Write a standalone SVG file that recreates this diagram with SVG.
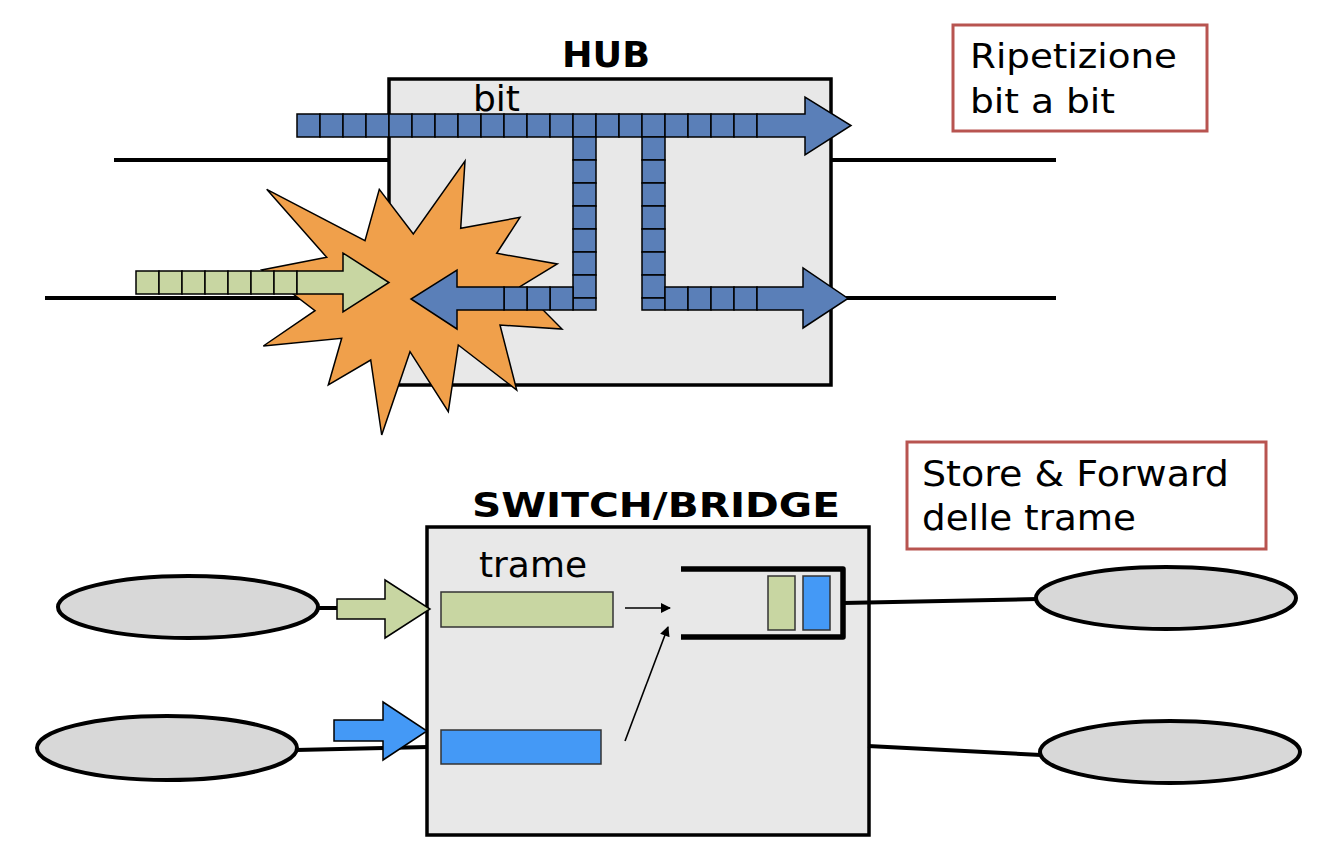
<svg xmlns="http://www.w3.org/2000/svg" width="1330" height="842" viewBox="0 0 1330 842">
<style>
.box{fill:#e8e8e8;stroke:#000;stroke-width:3.5}
.wire{stroke:#000;stroke-width:4;fill:none}
.bsq{fill:#5a7fb8;stroke:#000;stroke-width:1.5}
.gsq{fill:#c8d6a2;stroke:#000;stroke-width:1.5}
.note{fill:#fff;stroke:#b85450;stroke-width:3}
.t{font-family:"DejaVu Sans",Verdana,sans-serif;fill:#000}
.title{font-family:"DejaVu Sans",Verdana,sans-serif;font-weight:bold;fill:#000}
.ell{fill:#d8d8d8;stroke:#000;stroke-width:4}
.thin{stroke:#000;stroke-width:1.6;fill:none}
</style>
<defs>
<marker id="ah" viewBox="0 0 10 10" refX="9" refY="5" markerWidth="11" markerHeight="10" orient="auto" markerUnits="userSpaceOnUse">
<path d="M0,0 L10,5 L0,10 z" fill="#000"/>
</marker>
</defs>

<!-- HUB -->
<g id="hub">
<line class="wire" x1="114" y1="160" x2="390" y2="160"/>
<line class="wire" x1="830" y1="160" x2="1056" y2="160"/>
<line class="wire" x1="45" y1="298" x2="390" y2="298"/>
<line class="wire" x1="830" y1="298" x2="1056" y2="298"/>
<rect class="box" x="389" y="79" width="442" height="306"/>
<text class="title" x="562" y="67" font-size="35" textLength="88" lengthAdjust="spacingAndGlyphs">HUB</text>
<text class="t" x="473" y="111" font-size="35" textLength="47" lengthAdjust="spacingAndGlyphs">bit</text>
</g>

<g id="explosion">
<polygon fill="#f0a04b" stroke="#000" stroke-width="1.5" points="266.7,189.3 365,240.7 379.3,189.3 413.3,234 465,161 460.7,228.3 520,217.3 496.7,253.3 557.3,264 520,286.7 562,329 500,325 516.7,390 458.3,345 448.3,411.7 410,351.7 381.7,435 370.7,360 328.3,385 341.7,338.3 263.3,346 315,310.7 261.7,270 326.7,257.3"/>
</g>

<g id="bit-chain-top">
<rect class="bsq" x="297" y="114" width="23" height="23"/>
<rect class="bsq" x="320" y="114" width="23" height="23"/>
<rect class="bsq" x="343" y="114" width="23" height="23"/>
<rect class="bsq" x="366" y="114" width="23" height="23"/>
<rect class="bsq" x="389" y="114" width="23" height="23"/>
<rect class="bsq" x="412" y="114" width="23" height="23"/>
<rect class="bsq" x="435" y="114" width="23" height="23"/>
<rect class="bsq" x="458" y="114" width="23" height="23"/>
<rect class="bsq" x="481" y="114" width="23" height="23"/>
<rect class="bsq" x="504" y="114" width="23" height="23"/>
<rect class="bsq" x="527" y="114" width="23" height="23"/>
<rect class="bsq" x="550" y="114" width="23" height="23"/>
<rect class="bsq" x="573" y="114" width="23" height="23"/>
<rect class="bsq" x="596" y="114" width="23" height="23"/>
<rect class="bsq" x="619" y="114" width="23" height="23"/>
<rect class="bsq" x="642" y="114" width="23" height="23"/>
<rect class="bsq" x="665" y="114" width="23" height="23"/>
<rect class="bsq" x="688" y="114" width="23" height="23"/>
<rect class="bsq" x="711" y="114" width="23" height="23"/>
<rect class="bsq" x="734" y="114" width="23" height="23"/>
<polygon class="bsq" points="757,114 805,114 805,97 851,125.5 805,155 805,137 757,137"/>
</g>

<g id="bit-chain-left">
<rect class="bsq" x="573" y="137" width="23" height="23"/>
<rect class="bsq" x="573" y="160" width="23" height="23"/>
<rect class="bsq" x="573" y="183" width="23" height="23"/>
<rect class="bsq" x="573" y="206" width="23" height="23"/>
<rect class="bsq" x="573" y="229" width="23" height="23"/>
<rect class="bsq" x="573" y="252" width="23" height="23"/>
<rect class="bsq" x="573" y="275" width="23" height="23"/>
<rect class="bsq" x="573" y="298" width="23" height="12"/>
<rect class="bsq" x="550" y="287" width="23" height="23"/>
<rect class="bsq" x="527" y="287" width="23" height="23"/>
<rect class="bsq" x="504" y="287" width="23" height="23"/>
<polygon class="bsq" points="504,287 457,287 457,270 411,299 457,329 457,310 504,310"/>
</g>

<g id="bit-chain-right">
<rect class="bsq" x="642" y="137" width="23" height="23"/>
<rect class="bsq" x="642" y="160" width="23" height="23"/>
<rect class="bsq" x="642" y="183" width="23" height="23"/>
<rect class="bsq" x="642" y="206" width="23" height="23"/>
<rect class="bsq" x="642" y="229" width="23" height="23"/>
<rect class="bsq" x="642" y="252" width="23" height="23"/>
<rect class="bsq" x="642" y="275" width="23" height="23"/>
<rect class="bsq" x="642" y="298" width="23" height="12"/>
<rect class="bsq" x="665" y="287" width="23" height="23"/>
<rect class="bsq" x="688" y="287" width="23" height="23"/>
<rect class="bsq" x="711" y="287" width="23" height="23"/>
<rect class="bsq" x="734" y="287" width="23" height="23"/>
<polygon class="bsq" points="757,287 803,287 803,268 848,298.5 803,328 803,310 757,310"/>
</g>

<g id="bit-chain-green">
<rect class="gsq" x="136" y="271" width="23" height="23"/>
<rect class="gsq" x="159" y="271" width="23" height="23"/>
<rect class="gsq" x="182" y="271" width="23" height="23"/>
<rect class="gsq" x="205" y="271" width="23" height="23"/>
<rect class="gsq" x="228" y="271" width="23" height="23"/>
<rect class="gsq" x="251" y="271" width="23" height="23"/>
<rect class="gsq" x="274" y="271" width="23" height="23"/>
<polygon class="gsq" points="297,271 343,271 343,253 389,282.5 343,312 343,294 297,294"/>
</g>

<g id="note-hub">
<rect class="note" x="953" y="25" width="254" height="106"/>
<text class="t" x="970" y="68" font-size="34" textLength="207" lengthAdjust="spacingAndGlyphs">Ripetizione</text>
<text class="t" x="970" y="113" font-size="34" textLength="145" lengthAdjust="spacingAndGlyphs">bit a bit</text>
</g>

<!-- SWITCH -->
<g id="switch">
<rect class="box" x="427" y="527" width="442" height="308"/>
<text class="title" x="472" y="517" font-size="33" textLength="368" lengthAdjust="spacingAndGlyphs">SWITCH/BRIDGE</text>
<text class="t" x="479" y="577" font-size="35" textLength="108" lengthAdjust="spacingAndGlyphs">trame</text>
<rect x="441" y="592" width="172" height="35" fill="#c8d6a2" stroke="#333" stroke-width="1.5"/>
<rect x="441" y="730" width="160" height="34" fill="#4499f6" stroke="#333" stroke-width="1.5"/>
</g>

<g id="connectors">
<line class="wire" x1="316" y1="608" x2="340" y2="608"/>
<line class="wire" x1="296" y1="750" x2="428" y2="747"/>
<line class="wire" x1="868" y1="746" x2="1041" y2="755"/>
<line class="wire" x1="843" y1="603" x2="1037" y2="599"/>
<line class="thin" x1="625" y1="608" x2="670" y2="608" marker-end="url(#ah)"/>
<line class="thin" x1="625" y1="741" x2="668" y2="627" marker-end="url(#ah)"/>
</g>

<g id="queue">
<polyline fill="none" stroke="#000" stroke-width="5.5" stroke-linejoin="round" points="681,569 843,569 843,637 681,637"/>
<rect x="768" y="576" width="27" height="54" fill="#c8d6a2" stroke="#333" stroke-width="1.5"/>
<rect x="803" y="576" width="27" height="54" fill="#4499f6" stroke="#333" stroke-width="1.5"/>
</g>

<g id="arrow-green">
<polygon fill="#c8d6a2" stroke="#000" stroke-width="1.5" points="337,599 385,599 385,580 430,609 385,638 385,619 337,619"/>
</g>
<g id="arrow-blue">
<polygon fill="#4499f6" stroke="#000" stroke-width="1.5" points="334,720 383,720 383,702 427,731 383,760 383,741 334,741"/>
</g>

<g id="host-1"><ellipse class="ell" cx="188" cy="607" rx="130" ry="31"/></g>
<g id="host-2"><ellipse class="ell" cx="167" cy="748" rx="130" ry="32"/></g>
<g id="host-3"><ellipse class="ell" cx="1166" cy="598" rx="130" ry="31"/></g>
<g id="host-4"><ellipse class="ell" cx="1170" cy="752" rx="130" ry="31"/></g>

<g id="note-switch">
<rect class="note" x="907" y="442" width="359" height="107"/>
<text class="t" x="922" y="486" font-size="35" textLength="307" lengthAdjust="spacingAndGlyphs">Store &amp; Forward</text>
<text class="t" x="922" y="530" font-size="35" textLength="214" lengthAdjust="spacingAndGlyphs">delle trame</text>
</g>
</svg>
